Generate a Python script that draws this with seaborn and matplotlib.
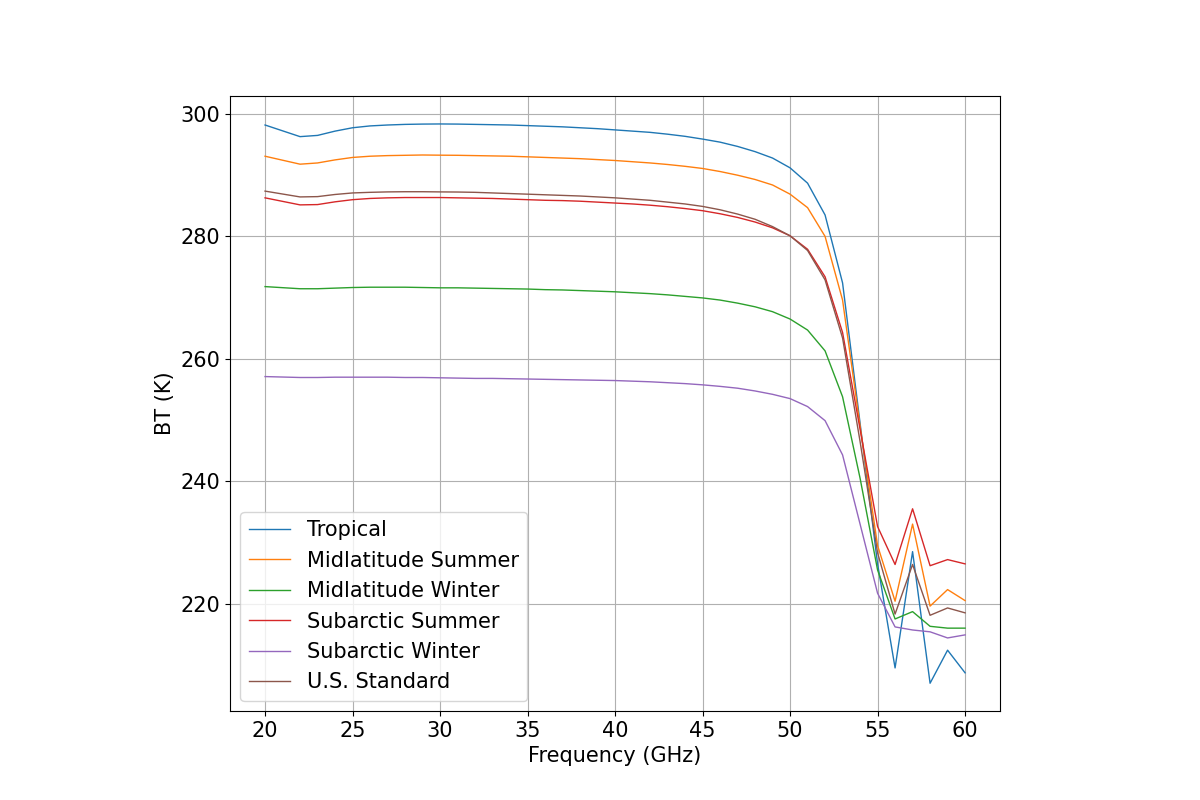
import matplotlib
matplotlib.use("Agg")
import matplotlib.pyplot as plt
import seaborn as sns
import pandas as pd

freq = [20] + list(range(22, 61))

tropical = [298.2, 296.3, 296.5, 297.2, 297.75, 298.05, 298.2, 298.3, 298.35, 298.37,
            298.35, 298.3, 298.25, 298.2, 298.1, 298.0, 297.9, 297.75, 297.6, 297.4,
            297.2, 297.0, 296.7, 296.35, 295.9, 295.4, 294.7, 293.85, 292.8, 291.2,
            288.7, 283.5, 272.4, 249.5, 226.5, 209.5, 228.5, 207.0, 212.4, 208.7]
mid_summer = [293.1, 291.8, 292.0, 292.5, 292.9, 293.1, 293.2, 293.25, 293.3, 293.27,
              293.25, 293.2, 293.15, 293.1, 293.0, 292.9, 292.8, 292.7, 292.55, 292.4,
              292.2, 292.0, 291.75, 291.45, 291.1, 290.6, 290.0, 289.3, 288.4, 286.9,
              284.7, 280.0, 269.6, 249.0, 229.5, 220.4, 233.0, 219.6, 222.3, 220.5]
mid_winter = [271.8, 271.45, 271.45, 271.55, 271.65, 271.7, 271.7, 271.7, 271.65, 271.6,
              271.6, 271.55, 271.5, 271.45, 271.4, 271.3, 271.25, 271.15, 271.05, 270.95,
              270.8, 270.65, 270.45, 270.2, 269.95, 269.6, 269.1, 268.5, 267.7, 266.5,
              264.7, 261.3, 253.8, 240.5, 225.5, 217.5, 218.7, 216.3, 216.0, 216.0]
sub_summer = [286.3, 285.15, 285.2, 285.65, 286.0, 286.2, 286.3, 286.35, 286.35, 286.35,
              286.3, 286.25, 286.2, 286.1, 286.0, 285.9, 285.85, 285.75, 285.6, 285.45,
              285.3, 285.1, 284.85, 284.55, 284.2, 283.7, 283.1, 282.35, 281.4, 280.1,
              277.9, 273.4, 264.3, 248.5, 232.6, 226.4, 235.5, 226.2, 227.2, 226.5]
sub_winter = [257.1, 256.95, 256.95, 257.0, 257.0, 257.0, 257.0, 256.95, 256.95, 256.9,
              256.85, 256.8, 256.8, 256.75, 256.7, 256.65, 256.6, 256.55, 256.5, 256.45,
              256.35, 256.25, 256.1, 255.95, 255.75, 255.5, 255.2, 254.75, 254.2, 253.5,
              252.2, 249.9, 244.3, 233.0, 221.7, 216.2, 215.7, 215.4, 214.4, 214.9]
us_standard = [287.4, 286.45, 286.5, 286.85, 287.1, 287.2, 287.27, 287.3, 287.3, 287.27,
               287.25, 287.2, 287.1, 287.0, 286.9, 286.8, 286.7, 286.6, 286.45, 286.3,
               286.1, 285.9, 285.6, 285.3, 284.9, 284.35, 283.65, 282.8, 281.6, 280.1,
               277.7, 272.9, 263.4, 246.5, 228.3, 218.3, 226.4, 218.1, 219.3, 218.5]

names = ["Tropical", "Midlatitude Summer", "Midlatitude Winter",
         "Subarctic Summer", "Subarctic Winter", "U.S. Standard"]
series = [tropical, mid_summer, mid_winter, sub_summer, sub_winter, us_standard]

rows = []
for n, vals in zip(names, series):
    for f, v in zip(freq, vals):
        rows.append({"Frequency": f, "BT": v, "Atmosphere": n})
df = pd.DataFrame(rows)

plt.rcParams["font.family"] = ["DejaVu Sans"]
fig = plt.figure(figsize=(12, 8), dpi=100)
ax = fig.add_axes([0.1917, 0.111, 0.6417, 0.769])

palette = sns.color_palette("tab10", 6)
for i, n in enumerate(names):
    sub = df[df["Atmosphere"] == n]
    sns.lineplot(data=sub, x="Frequency", y="BT", color=palette[i], label=n,
                 linewidth=1.0, estimator=None, sort=False, ax=ax)

ax.grid(True, color="#b0b0b0", linewidth=0.8)
ax.set_axisbelow(True)
ax.set_xlabel("Frequency (GHz)", fontsize=15)
ax.set_ylabel("BT (K)", fontsize=15)
ax.tick_params(labelsize=15)
ax.legend(loc="lower left", fontsize=15)

fig.savefig("out.png", dpi=100)
